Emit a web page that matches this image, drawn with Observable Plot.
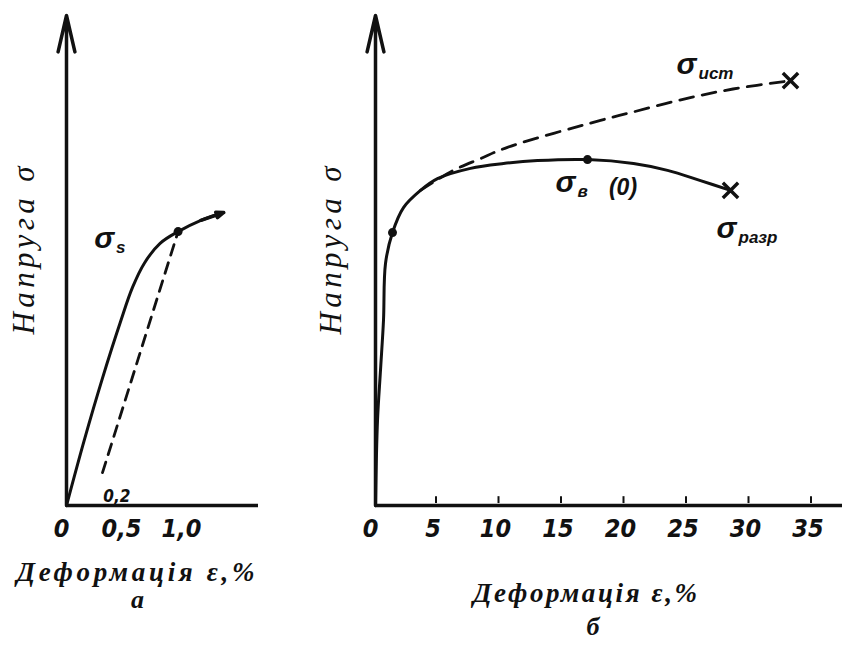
<!DOCTYPE html>
<html><head><meta charset="utf-8">
<script src="https://cdn.jsdelivr.net/npm/d3@7"></script>
<script src="https://cdn.jsdelivr.net/npm/@observablehq/plot@0.6"></script>
<style>
body{margin:0;background:#fff;}
#wrap{position:relative;width:842px;height:649px;overflow:hidden;background:#fff;}
#wrap svg{position:absolute;top:0;}
</style></head><body><div id="wrap"></div>
<script>
// ---------- data ----------
const leftTickValues = [0, 0.5, 1.0];
const leftTickLabels = ["0", "0,5", "1,0"];
const rightTickValues = [0, 5, 10, 15, 20, 25, 30, 35];
const rightTickLabels = ["0", "5", "10", "15", "20", "25", "30", "35"];
const rightTickMarks = [5, 10, 15, 20, 25, 30, 35];

// panel a: engineering curve with 0.2 offset
const leftSolidX = [0, 0.15, 0.3, 0.45, 0.55, 0.65, 0.78, 0.93, 1.12, 1.31];
const leftSolidY = [0, 13.5, 26, 37.5, 44.5, 49.5, 53.5, 55.9, 58.2, 59.8];
const leftDashedX = [0.3, 0.93];
const leftDashedY = [6.7, 55.9];
const leftPointX = [0.93];
const leftPointY = [55.9];
const leftOffsetLabel = "0,2";
const leftOffsetX = [0.42];
const leftOffsetY = [1.8];
const leftSigmaX = [0.33];
const leftSigmaY = [54.5];
const leftSigmaSub = ["s"];

// panel б: engineering and true stress curves
const rightSolidX = [0, 0.16, 0.4, 0.64, 0.8, 1.36, 2.24, 3.6, 4.96, 7.6, 10.24, 12.96, 16.96, 20.64, 23.36, 26, 28.4];
const rightSolidY = [0, 17.3, 27.6, 37.8, 49.4, 55.7, 60.8, 64.3, 66.7, 68.8, 69.8, 70.4, 70.6, 69.8, 68.4, 66.3, 64.3];
const rightDashedX = [3.6, 6.24, 8.4, 10.56, 18, 20.6, 24.6, 28.6, 33.2];
const rightDashedY = [64.3, 68.4, 70.8, 73.1, 78.6, 80.3, 82.9, 85.0, 86.7];
const rightPointX = [1.36, 16.96];
const rightPointY = [55.7, 70.6];
const rightCrossX = [28.4, 33.2];
const rightCrossY = [64.3, 86.7];
const rightSigmaX = [25.04, 15.36, 28.24];
const rightSigmaY = [90, 66, 56.5];
const rightSigmaSub = ["ист", "в", "разр"];
const rightExtraText = ["(0)"];
const rightExtraX = [19.8];
const rightExtraY = [64.9];

const yTitle = "Напруга σ";
const xTitle = "Деформація ε,%";
const panelNames = ["а", "б"];
const sigma = "σ";

// ---------- helpers ----------
const pts = (xs, ys) => xs.map((x, i) => ({x, y: ys[i]}));
const ink = "#111";
const tickFont = "'Liberation Sans Narrow','DejaVu Sans Condensed','Liberation Sans',sans-serif";
const serif = "'Liberation Serif','DejaVu Serif',serif";
const sans = "'Liberation Sans','DejaVu Sans',sans-serif";

function panel({width, marginLeft, marginRight, xDomain, ticksV, ticksL, solid, dashed, dash,
                points, sigmaX, sigmaY, sigmaSub, extraMarks, titleDx, captionDx, captionDy, nameDx, nameDy, name, tipArrow}) {
  const n = solid.length;
  const tip = [{x1: solid[n - 2].x, y1: solid[n - 2].y, x2: solid[n - 1].x, y2: solid[n - 1].y}];
  const sig = sigmaX.map((x, i) => ({x, y: sigmaY[i], sub: sigmaSub[i]}));
  return Plot.plot({
    width, height: 649,
    marginLeft, marginRight, marginTop: 15, marginBottom: 144,
    x: {domain: xDomain, axis: null},
    y: {domain: [0, 100], axis: null},
    style: {background: "transparent", overflow: "visible"},
    marks: [
      Plot.ruleY([0], {stroke: ink, strokeWidth: 3.5}),
      Plot.arrow([{x1: 0, y1: 0, x2: 0, y2: 100}], {x1: "x1", y1: "y1", x2: "x2", y2: "y2",
        stroke: ink, strokeWidth: 3.5, headLength: 16, headAngle: 26}),
      Plot.line(solid, {x: "x", y: "y", curve: "catmull-rom", stroke: ink, strokeWidth: 3}),
      Plot.line(dashed, {x: "x", y: "y", curve: "catmull-rom", stroke: ink, strokeWidth: 2.8, strokeDasharray: dash}),
      Plot.dot(points, {x: "x", y: "y", r: 4.5, fill: ink}),
      Plot.text(ticksV, {x: d => d, frameAnchor: "bottom", text: (d, i) => ticksL[i], dy: 31, dx: -5,
        fontFamily: tickFont, fontWeight: "bold", fontStyle: "italic", fontSize: 25, fill: ink}),
      Plot.text(sig, {x: "x", y: "y", text: () => sigma, textAnchor: "end", dx: 8,
        fontFamily: sans, fontWeight: "bold", fontStyle: "italic", fontSize: 30, fill: ink}),
      Plot.text(sig, {x: "x", y: "y", text: "sub", textAnchor: "start", dx: 10, dy: 9,
        fontFamily: sans, fontWeight: "bold", fontStyle: "italic", fontSize: 17, fill: ink}),
      ...extraMarks,
      Plot.text([yTitle], {frameAnchor: "left", rotate: -90, dx: titleDx, dy: 74,
        fontFamily: serif, fontStyle: "italic", fontSize: 31, fill: ink}),
      Plot.text([xTitle], {frameAnchor: "bottom", dx: captionDx, dy: captionDy,
        fontFamily: serif, fontWeight: "bold", fontStyle: "italic", fontSize: 27, fill: ink}),
      Plot.text([name], {frameAnchor: "bottom", dx: nameDx, dy: nameDy,
        fontFamily: serif, fontWeight: "bold", fontStyle: "italic", fontSize: 26, fill: ink}),
      ...(tipArrow ? [Plot.arrow(tip, {x1: "x1", y1: "y1", x2: "x2", y2: "y2", stroke: ink, strokeWidth: 3.5, headLength: 15, headAngle: 40})] : [])
    ]
  });
}

const left = panel({
  width: 290, marginLeft: 66, marginRight: 32, xDomain: [0, 1.6],
  ticksV: leftTickValues, ticksL: leftTickLabels,
  solid: pts(leftSolidX, leftSolidY), dashed: pts(leftDashedX, leftDashedY), dash: "11,8",
  points: pts(leftPointX, leftPointY),
  sigmaX: leftSigmaX, sigmaY: leftSigmaY, sigmaSub: leftSigmaSub,
  extraMarks: [
    Plot.text(pts(leftOffsetX, leftOffsetY), {x: "x", y: "y", text: () => leftOffsetLabel,
      fontFamily: tickFont, fontWeight: "bold", fontStyle: "italic", fontSize: 17, fill: ink})
  ],
  titleDx: -42, captionDx: -27, captionDy: 75, nameDx: -25, nameDy: 102, name: panelNames[0], tipArrow: true
});

const right = panel({
  width: 552, marginLeft: 85, marginRight: 0, xDomain: [0, 37.36],
  ticksV: rightTickValues, ticksL: rightTickLabels,
  solid: pts(rightSolidX, rightSolidY), dashed: pts(rightDashedX, rightDashedY), dash: "14,9",
  points: pts(rightPointX, rightPointY),
  sigmaX: rightSigmaX, sigmaY: rightSigmaY, sigmaSub: rightSigmaSub,
  extraMarks: [
    Plot.ruleX(rightTickMarks, {x: d => d, y1: 0.4, y2: 1.8, stroke: ink, strokeWidth: 2, dx: -2}),
    Plot.dot(pts(rightCrossX, rightCrossY), {x: "x", y: "y", symbol: "times", r: 7, stroke: ink, strokeWidth: 3.4}),
    Plot.text(pts(rightExtraX, rightExtraY), {x: "x", y: "y", text: () => rightExtraText[0],
      fontFamily: sans, fontWeight: "bold", fontStyle: "italic", fontSize: 23, fill: ink})
  ],
  titleDx: -44, captionDx: -24, captionDy: 96, nameDx: -16, nameDy: 129, name: panelNames[1], tipArrow: false
});

left.style.left = "0px";
right.style.left = "290px";
const wrap = document.getElementById("wrap");
wrap.appendChild(left);
wrap.appendChild(right);

function stretch(svg, content, len) {
  d3.select(svg).selectAll("text")
    .filter(function () { return this.textContent === content; })
    .attr("textLength", len).attr("lengthAdjust", "spacing");
}
stretch(left, xTitle, 238);
stretch(right, xTitle, 224);
stretch(left, yTitle, 168);
stretch(right, yTitle, 168);
</script></body></html>
